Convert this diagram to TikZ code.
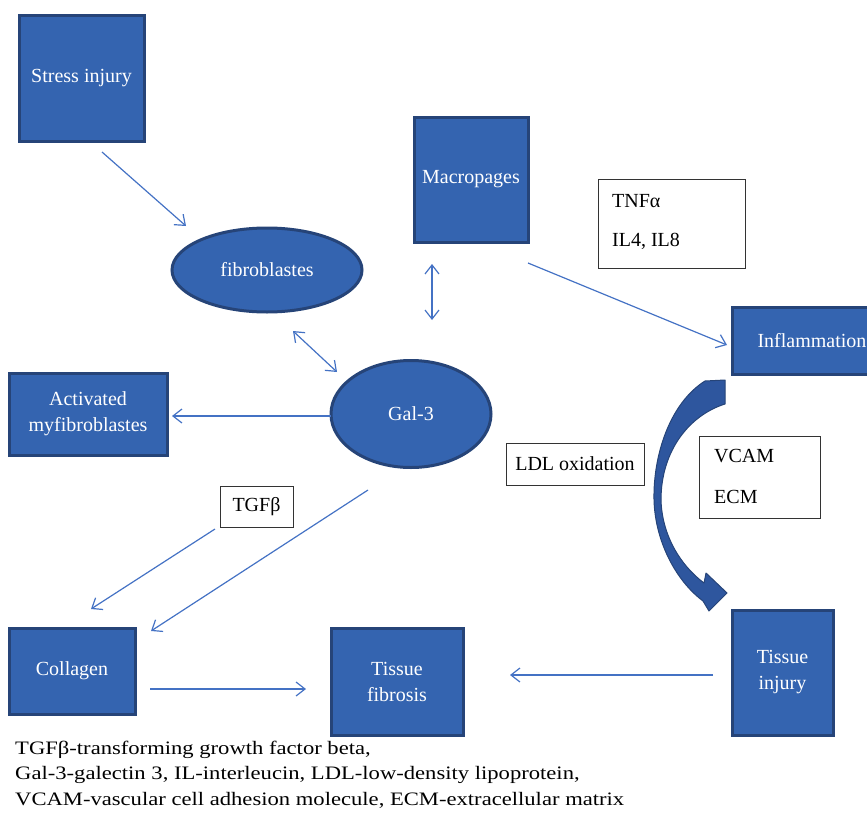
\documentclass[tikz,border=0pt]{standalone}
\usepackage{fontspec}
\usepackage{graphicx}
\setmainfont{Liberation Serif}
\usetikzlibrary{arrows.meta,shapes.geometric}
\definecolor{boxfill}{RGB}{52,100,176}
\definecolor{boxline}{RGB}{38,68,120}
\definecolor{arr}{RGB}{68,114,196}
\definecolor{bigarr}{RGB}{46,86,158}
\tikzset{
  bluebox/.style={draw=boxline, line width=3pt, fill=boxfill, text=white, font=\fontsize{20}{26}\selectfont, align=center, inner sep=0pt},
  blueell/.style={ellipse, draw=boxline, line width=3pt, fill=boxfill, text=white, font=\fontsize{20}{26}\selectfont, inner sep=0pt},
  whitebox/.style={draw=black!80, line width=1pt, fill=white, text=black, font=\fontsize{20}{25}\selectfont, inner sep=0pt},
  lbl/.style={text=black, font=\fontsize{20}{25}\selectfont, inner sep=0pt},
  conn/.style={draw=arr, line width=1.2pt, -{Straight Barb[length=9pt,width=14pt]}},
  dconn/.style={draw=arr, line width=1.2pt, {Straight Barb[length=9pt,width=14pt]}-{Straight Barb[length=9pt,width=14pt]}},
  captxt/.style={text=black, font=\fontsize{19}{25}\selectfont, anchor=west, inner sep=0pt}
}
\newcommand{\wcap}[1]{\scalebox{1.19}[1]{#1}}
\begin{document}
\begin{tikzpicture}[x=1pt,y=-1pt]
\useasboundingbox (0,0) rectangle (867,814);
\clip (0,0) rectangle (867,814);
% blue boxes
\node[bluebox, minimum width=125pt, minimum height=126pt] (stress) at (81.5,78) {Stress injury};
\node[bluebox, minimum width=114pt, minimum height=125pt] (macro) at (471,179.5) {Macropages};
\node[bluebox, minimum width=158pt, minimum height=82pt] (act) at (88,414) {Activated\\myfibroblastes};
\node[bluebox, minimum width=160pt, minimum height=67pt] (infl) at (812,340.5) {Inflammation};
\node[bluebox, minimum width=126pt, minimum height=86pt] (coll) at (72,671) {Collagen};
\node[bluebox, minimum width=132pt, minimum height=107pt] (fibro) at (397,681.5) {Tissue\\fibrosis};
\node[bluebox, minimum width=101pt, minimum height=125pt] (tinj) at (782.5,672.5) {Tissue\\injury};
% ellipses
\node[blueell, minimum width=190pt, minimum height=84pt] (fib) at (267,270) {fibroblastes};
\node[blueell, minimum width=160pt, minimum height=107pt] (gal) at (411,414) {Gal-3};
% white boxes
\node[whitebox, minimum width=147pt, minimum height=89pt] (tnf) at (671.5,223.5) {};
\node[lbl, anchor=west] (tnfa) at (612,201) {TNFα};
\node[lbl, anchor=west] (il) at (612,241) {IL4, IL8};
\node[whitebox, minimum width=138pt, minimum height=42pt] (ldl) at (575,464) {LDL oxidation};
\node[whitebox, minimum width=121pt, minimum height=82pt] (vcamb) at (759.5,477) {};
\node[lbl, anchor=west] (vcam) at (714,456) {VCAM};
\node[lbl, anchor=west] (ecm) at (714,497) {ECM};
\node[whitebox, minimum width=73pt, minimum height=41pt] (tgf) at (256.5,506.5) {TGFβ};
% connector end points
\coordinate (s1) at (102,152); \coordinate (s2) at (186,226);
\coordinate (f1) at (293,331); \coordinate (f2) at (337,372);
\coordinate (m1) at (432,264); \coordinate (m2) at (432,320);
\coordinate (i1) at (528,263); \coordinate (i2) at (727,345);
\coordinate (g1) at (331,416); \coordinate (g2) at (172,416);
\coordinate (t1) at (215,529); \coordinate (t2) at (91,609);
\coordinate (c1) at (368,490); \coordinate (c2) at (151,631);
\coordinate (k1) at (150,689); \coordinate (k2) at (306,689);
\coordinate (j1) at (713,675); \coordinate (j2) at (510,675);
\draw[conn] (s1) -- (s2);
\draw[dconn] (f1) -- (f2);
\draw[dconn] (m1) -- (m2);
\draw[conn] (i1) -- (i2);
\draw[conn] (g1) -- (g2);
\draw[conn] (t1) -- (t2);
\draw[conn] (c1) -- (c2);
\draw[conn] (k1) -- (k2);
\draw[conn] (j1) -- (j2);
% curved block arrow
\fill[bigarr, draw=boxline, line width=1pt, line join=round]
  (705,381) .. controls (670,403) and (653,455) .. (654,500)
  .. controls (655,540) and (675,580) .. (703,601)
  -- (709,611) -- (727,593) -- (706,573) -- (704,583)
  .. controls (680,565) and (662,535) .. (661,500)
  .. controls (661,450) and (690,415) .. (725,404)
  -- (725,380) -- cycle;
% caption
\node[captxt] (l1) at (15,750) {\wcap{TGFβ-transforming growth factor beta,}};
\node[captxt] (l2) at (15,775) {\wcap{Gal-3-galectin 3, IL-interleucin, LDL-low-density lipoprotein,}};
\node[captxt] (l3) at (15,800) {\wcap{VCAM-vascular cell adhesion molecule, ECM-extracellular matrix}};
\end{tikzpicture}
\end{document}
